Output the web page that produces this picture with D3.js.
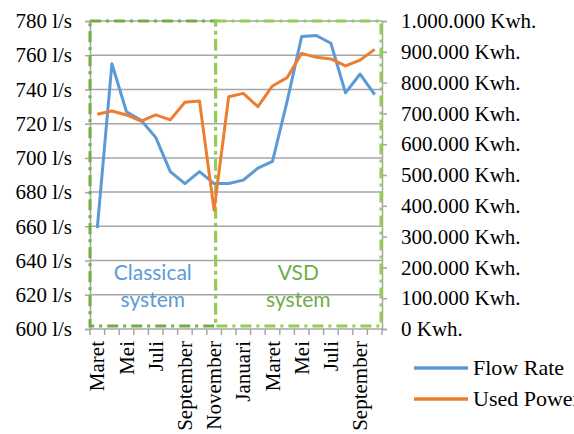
<!DOCTYPE html>
<html>
<head>
<meta charset="utf-8">
<script src="https://cdn.jsdelivr.net/npm/d3@7"></script>
<style>
    body { margin: 0; background: #fff; }
    #chart { width: 574px; height: 434px; overflow: hidden; }
</style>
</head>
<body>
<div id="chart"></div>
<script>
    // months, Maret .. Oktober of the next year
    const months = ["Maret","April","Mei","Juni","Juli","Agustus","September","Oktober","November","Desember",
                    "Januari","Februari","Maret","April","Mei","Juni","Juli","Agustus","September","Oktober"];
    const flowRate = [659,755,727,722,712,692,685,692,685,685,687,694,698,733,771,771.5,767,738,749,737];
    const usedPower = [697000,708000,695000,675000,695000,679000,736000,740000,386000,754000,
                       765000,722000,789000,816000,895000,882000,877000,854000,873000,908000];
    const flowTicks = [600,620,640,660,680,700,720,740,760,780];
    const powerTicks = [0,100000,200000,300000,400000,500000,600000,700000,800000,900000,1000000];
    const periods = [
        { name: ["Classical","system"], from: 0, to: 8 },
        { name: ["VSD","system"], from: 8, to: 19 }
    ];
    const seriesNames = ["Flow Rate","Used Power"];

    function create_flow_power_chart(targetElementId) {
        const margin = { top: 21, right: 192, bottom: 105, left: 90 };
        const width = 574 - margin.left - margin.right;
        const height = 434 - margin.top - margin.bottom;
        const blue = "#5b9bd5", orange = "#ed7d31", grey = "#a6a6a6";
        const serif = "21px 'Liberation Serif'";

        const svg = d3.select(`#${targetElementId}`).append("svg")
            .attr("width", 574)
            .attr("height", 434)
            .append("g")
                .attr("transform", `translate(${margin.left},${margin.top})`);

        const idx = months.map((m, i) => i);
        const x = d3.scaleBand().domain(idx).range([0, width]);
        const y = d3.scaleLinear().domain([600, 780]).range([height, 0]);
        const y2 = d3.scaleLinear().domain([0, 1000000]).range([height, 0]);
        const cx = i => x(i) + x.bandwidth() / 2;

        // gridlines
        svg.append("g").selectAll("line")
            .data(flowTicks.slice(1))
            .enter().append("line")
                .attr("x1", 0).attr("x2", width)
                .attr("y1", d => y(d)).attr("y2", d => y(d))
                .attr("stroke", grey).attr("stroke-width", 1.5);

        // left axis
        svg.append("g")
            .call(d3.axisLeft(y).tickValues(flowTicks).tickSize(5).tickPadding(13)
                .tickFormat(d => `${d} l/s`))
            .call(g => g.selectAll("path,line").attr("stroke", grey).attr("stroke-width", 1.5))
            .call(g => g.selectAll("text").style("font", serif).attr("fill", "#000"));

        // right axis
        svg.append("g")
            .attr("transform", `translate(${width},0)`)
            .call(d3.axisRight(y2).tickValues(powerTicks).tickSize(5).tickPadding(14)
                .tickFormat(d => `${d3.format(",")(d).replace(/,/g, ".")} Kwh.`))
            .call(g => g.selectAll("path,line").attr("stroke", grey).attr("stroke-width", 1.5))
            .call(g => g.selectAll("text").style("font", serif).attr("fill", "#000"));

        // bottom axis, ticks between months
        const xAxis = svg.append("g").attr("transform", `translate(0,${height})`);
        xAxis.append("line")
            .attr("x1", 0).attr("x2", width)
            .attr("stroke", grey).attr("stroke-width", 1.5);
        xAxis.selectAll(".tick")
            .data(idx.concat([idx.length]))
            .enter().append("line")
                .attr("x1", d => d * x.step()).attr("x2", d => d * x.step())
                .attr("y1", 0).attr("y2", 6)
                .attr("stroke", grey).attr("stroke-width", 1.5);
        xAxis.selectAll("text")
            .data(idx.filter(i => i % 2 === 0))
            .enter().append("text")
                .attr("transform", d => `translate(${cx(d) + 7},12) rotate(-90)`)
                .attr("text-anchor", "end")
                .style("font", serif)
                .text(d => months[d]);

        // period boxes
        periods.forEach((p, k) => {
            const x0 = k === 0 ? 0 : cx(p.from) + 1.5;
            const x1 = k === 0 ? cx(p.to) + 1.5 : width - 1;
            const col = k === 0 ? "#70ad47" : "#92d050";
            svg.append("rect")
                .attr("x", x0).attr("y", 0)
                .attr("width", x1 - x0).attr("height", height - 3)
                .attr("fill", "none")
                .attr("stroke", col).attr("stroke-width", 3)
                .attr("stroke-dasharray", "11,5,3,5");
            p.name.forEach((t, j) => {
                svg.append("text")
                    .attr("x", (x0 + x1) / 2)
                    .attr("y", 259 + j * 27)
                    .attr("text-anchor", "middle")
                    .attr("fill", k === 0 ? blue : "#70ad47")
                    .style("font", "21px Lato")
                    .text(t);
            });
        });

        // lines
        svg.append("path")
            .datum(flowRate)
            .attr("fill", "none").attr("stroke", blue).attr("stroke-width", 3)
            .attr("stroke-linejoin", "round")
            .attr("d", d3.line().x((d, i) => cx(i)).y(d => y(d)));
        svg.append("path")
            .datum(usedPower)
            .attr("fill", "none").attr("stroke", orange).attr("stroke-width", 3)
            .attr("stroke-linejoin", "round")
            .attr("d", d3.line().x((d, i) => cx(i)).y(d => y2(d)));

        // legend
        const legend = svg.append("g").attr("transform", `translate(${width + 32},${height + 39})`);
        [blue, orange].forEach((c, i) => {
            legend.append("line")
                .attr("x1", 0).attr("x2", 54)
                .attr("y1", i * 31).attr("y2", i * 31)
                .attr("stroke", c).attr("stroke-width", 3.5);
            legend.append("text")
                .attr("x", 59).attr("y", i * 31 + 7)
                .style("font", "22px 'Liberation Serif'")
                .text(seriesNames[i]);
        });
    }

    create_flow_power_chart("chart");
</script>
</body>
</html>
